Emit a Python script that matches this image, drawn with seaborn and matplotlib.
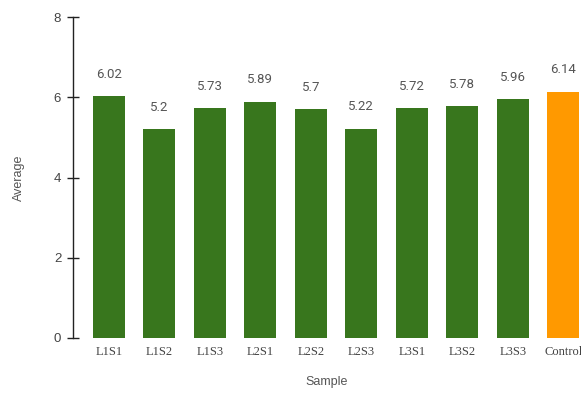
import matplotlib
matplotlib.use("Agg")
import matplotlib.pyplot as plt
import seaborn as sns
import pandas as pd

samples = ["L1S1", "L1S2", "L1S3", "L2S1", "L2S2", "L2S3", "L3S1", "L3S2", "L3S3", "Control"]
averages = [6.02, 5.2, 5.73, 5.89, 5.7, 5.22, 5.72, 5.78, 5.96, 6.14]
value_labels = ["6.02", "5.2", "5.73", "5.89", "5.7", "5.22", "5.72", "5.78", "5.96", "6.14"]
bar_colors = ["#38761d"] * 9 + ["#ff9900"]

df = pd.DataFrame({"Sample": samples, "Average": averages})

sns.set_theme(style="white")
fig = plt.figure(figsize=(5.81, 3.93), dpi=100)
ax = fig.add_axes([73 / 581, 55 / 393, 1 - 73 / 581, (338 - 17) / 393])

sns.barplot(data=df, x="Sample", y="Average", hue="Sample",
            palette=bar_colors, legend=False, width=0.63, ax=ax,
            saturation=1, edgecolor="none")

# value labels above each bar
for cont, lab in zip(ax.containers, value_labels):
    ax.bar_label(cont, labels=[lab], padding=11, fontsize=9.5,
                 color="#555555", family="Roboto")

ax.set_ylim(0, 8)
ax.set_xlim(-0.71, 9.35)
ax.set_yticks([0, 2, 4, 6, 8])
for s in ["top", "right", "bottom"]:
    ax.spines[s].set_visible(False)
ax.spines["left"].set_color("#222222")
ax.spines["left"].set_linewidth(1.0)
ax.tick_params(axis="y", direction="inout", length=9, width=1.0,
               color="#222222", labelsize=9.5, labelcolor="#444444", pad=4, left=True)
ax.tick_params(axis="x", length=0, pad=6, labelcolor="#444444")
for t in ax.get_xticklabels():
    t.set_family("Liberation Serif")
    t.set_fontsize(9)
for t in ax.get_yticklabels():
    t.set_family("Liberation Sans")

ax.set_ylabel("Average", fontsize=9, color="#555555", family="Liberation Sans", labelpad=21)
ax.set_xlabel("Sample", fontsize=9, color="#555555", family="Liberation Sans", labelpad=13)

fig.savefig("out.png", dpi=100)
